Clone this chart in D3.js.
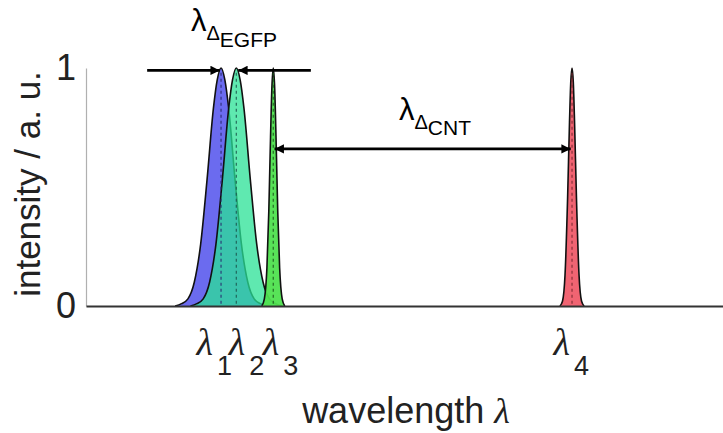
<!DOCTYPE html>
<html><head><meta charset="utf-8">
<script src="https://cdn.jsdelivr.net/npm/d3@7"></script>
<style>body{margin:0;background:#fff}svg{display:block}</style>
</head><body><svg id="c" width="723" height="433"></svg>
<script>
// ---- data (arbitrary wavelength units, normalised intensity) ----
const peakLabels = ["1", "2", "3", "4"];
const peakCenters = [21.2, 23.6, 29.4, 76.3];

const blueWavelength = [14.0, 15.0, 16.0, 17.0, 18.0, 19.0, 20.0, 20.6, 21.2, 21.8, 22.4, 23.4, 24.4, 25.4, 26.4, 27.4, 28.4];
const blueIntensity  = [0.00, 0.01, 0.03, 0.10, 0.26, 0.53, 0.83, 0.95, 1.00, 0.95, 0.83, 0.53, 0.26, 0.10, 0.03, 0.01, 0.00];

const tealWavelength = [16.4, 17.4, 18.4, 19.4, 20.4, 21.4, 22.4, 23.0, 23.6, 24.2, 24.8, 25.8, 26.8, 27.8, 28.8, 29.8, 30.8];
const tealIntensity  = [0.00, 0.01, 0.03, 0.10, 0.26, 0.53, 0.83, 0.95, 1.00, 0.95, 0.83, 0.53, 0.26, 0.10, 0.03, 0.01, 0.00];

const greenWavelength = [27.6, 28.0, 28.4, 28.7, 28.9, 29.2, 29.4, 29.6, 29.9, 30.1, 30.4, 30.8, 31.2];
const greenIntensity  = [0.00, 0.03, 0.16, 0.40, 0.63, 0.93, 1.00, 0.93, 0.63, 0.40, 0.16, 0.03, 0.00];

const redWavelength = [74.4, 74.8, 75.2, 75.6, 75.9, 76.1, 76.3, 76.5, 76.7, 77.0, 77.4, 77.8, 78.2];
const redIntensity  = [0.00, 0.02, 0.13, 0.45, 0.77, 0.94, 1.00, 0.94, 0.77, 0.45, 0.13, 0.02, 0.00];

const yTicks = [0, 1];
const annotations = [
  {from: 9.6, to: 21.0, level: 0.99},   // left arrow of Δ EGFP
  {from: 35.3, to: 23.9, level: 0.99},  // right arrow of Δ EGFP
  {from: 29.6, to: 76.1, level: 0.66, both: true} // Δ CNT
];

// ---- styles / layout ----
const series = [
  {x: blueWavelength,  y: blueIntensity,  fill: "#6b6bef", op: 1.0, dash: "#2a2a70"},
  {x: tealWavelength,  y: tealIntensity,  fill: "#2ae296", op: 0.75, dash: "#1d5a50"},
  {x: greenWavelength, y: greenIntensity, fill: "#4fe24f", op: 0.95, dash: "#1e5a1e"},
  {x: redWavelength,   y: redIntensity,   fill: "#f06472", op: 1.0, dash: "#7a2a30"}
];
const tickShift = [-25, -8, -11, -19];

const svg = d3.select("#c");
svg.append("rect").attr("width", 723).attr("height", 433).attr("fill", "#fff");

const x = d3.scaleLinear().domain([0, 100]).range([86, 723]);
const y = d3.scaleLinear().domain([0, 1]).range([306, 68]);

const defs = svg.append("defs");
defs.append("marker").attr("id", "ah").attr("viewBox", "0 0 10 10")
  .attr("refX", 10).attr("refY", 5).attr("markerWidth", 4).attr("markerHeight", 3.6)
  .attr("markerUnits", "strokeWidth").attr("orient", "auto-start-reverse")
  .append("path").attr("d", "M0,0L10,5L0,10Z").attr("fill", "#000");

// peaks
const area = d3.area().x(d => x(d[0])).y0(y(0)).y1(d => y(d[1])).curve(d3.curveMonotoneX);
const line = d3.line().x(d => x(d[0])).y(d => y(d[1])).curve(d3.curveMonotoneX);
series.forEach(s => {
  const pts = s.x.map((v, i) => [v, s.y[i]]);
  svg.append("path").attr("d", area(pts)).attr("fill", s.fill).attr("fill-opacity", s.op);
  svg.append("path").attr("d", line(pts)).attr("fill", "none").attr("stroke", "#111")
    .attr("stroke-width", 1.6).attr("stroke-linejoin", "round");
});
// dashed centre lines
series.forEach((s, i) => {
  svg.append("line").attr("x1", x(peakCenters[i])).attr("x2", x(peakCenters[i]))
    .attr("y1", y(0.98)).attr("y2", y(0))
    .attr("stroke", s.dash).attr("stroke-width", 1.3).attr("stroke-dasharray", "3,3").attr("opacity", 0.8);
});

// y axis
const ya = svg.append("g").attr("transform", `translate(${x(0)},0)`)
  .call(d3.axisLeft(y).tickValues(yTicks).tickSize(0).tickPadding(10).tickFormat(d3.format("d")));
ya.select(".domain").attr("stroke", "#b0b0b0").attr("stroke-width", 1.2);
ya.selectAll("text").attr("font-family", "Liberation Sans, Arial, sans-serif")
  .attr("font-size", 36).attr("fill", "#222");

// x axis
const xa = svg.append("g").attr("transform", `translate(0,${y(0)})`)
  .call(d3.axisBottom(x).tickValues(peakCenters).tickSize(0).tickSizeOuter(0));
xa.select(".domain").attr("stroke", "#333").attr("stroke-width", 2);
xa.selectAll(".tick text").each(function(d, i) {
  const t = d3.select(this).text(null).attr("x", tickShift[i]).attr("y", 49).attr("dy", null)
    .attr("text-anchor", "start").attr("fill", "#222");
  t.append("tspan").text("λ").attr("font-family", "Liberation Serif, serif")
    .attr("font-style", "italic").attr("font-size", 38);
  t.append("tspan").text(peakLabels[i]).attr("dy", 20).attr("dx", 4)
    .attr("font-family", "Liberation Sans, Arial, sans-serif").attr("font-size", 27);
});

// axis titles
svg.append("text").attr("transform", "translate(40,184) rotate(-90)")
  .attr("text-anchor", "middle").attr("font-family", "Liberation Sans, Arial, sans-serif")
  .attr("font-size", 35).attr("fill", "#222").text("intensity / a. u.");
const xt = svg.append("text").attr("x", 406).attr("y", 423).attr("text-anchor", "middle")
  .attr("font-family", "Liberation Sans, Arial, sans-serif").attr("font-size", 36).attr("fill", "#222");
xt.append("tspan").text("wavelength ");
xt.append("tspan").text("λ").attr("font-family", "Liberation Serif, serif").attr("font-style", "italic");

// arrows
annotations.forEach(a => {
  const l = svg.append("line").attr("x1", x(a.from)).attr("x2", x(a.to))
    .attr("y1", y(a.level)).attr("y2", y(a.level))
    .attr("stroke", "#000").attr("stroke-width", 2.6).attr("marker-end", "url(#ah)");
  if (a.both) l.attr("marker-start", "url(#ah)");
});

// delta labels
function deltaLabel(px, py, sub, d1, d2) {
  const t = svg.append("text").attr("x", px).attr("y", py)
    .attr("font-family", "Liberation Sans, Arial, sans-serif").attr("fill", "#000");
  t.append("tspan").text("λ").attr("font-size", 31);
  t.append("tspan").text("Δ").attr("font-size", 20).attr("dy", 9);
  t.append("tspan").text(sub).attr("font-size", 21).attr("dy", d2);
}
deltaLabel(191, 31, "EGFP", 9, 7);
deltaLabel(399, 120, "CNT", 10, 6);
</script></body></html>
